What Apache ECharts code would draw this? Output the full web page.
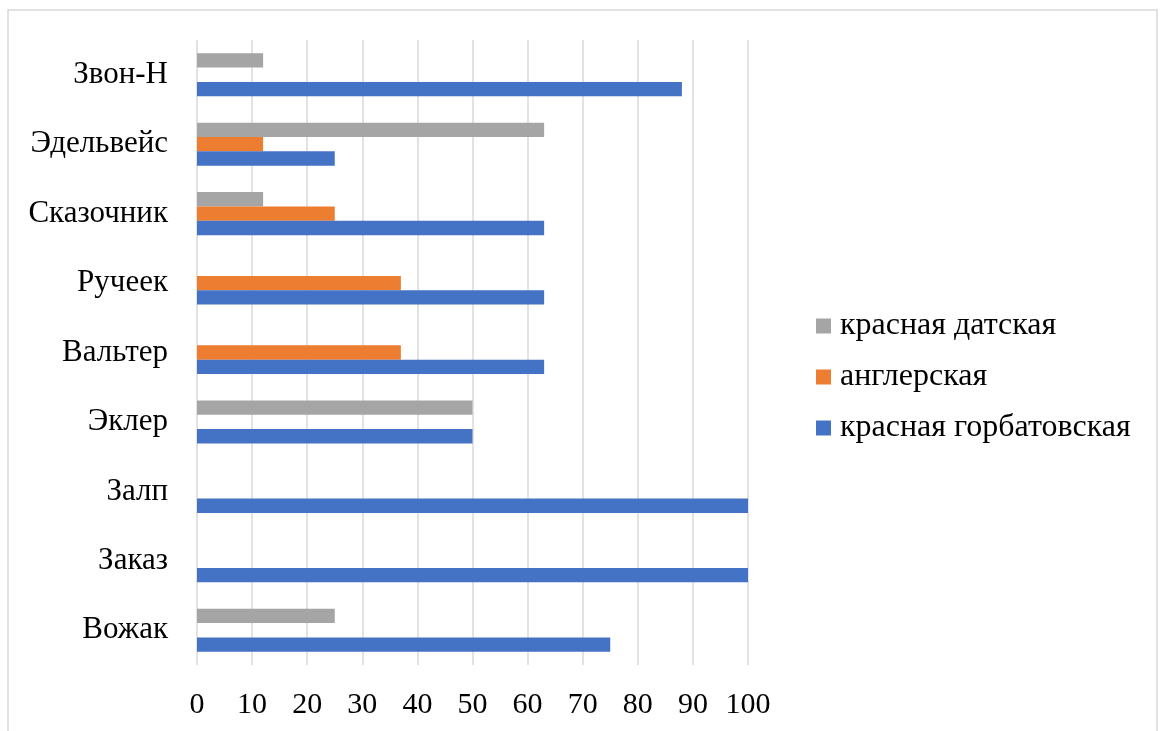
<!DOCTYPE html>
<html>
<head>
<meta charset="utf-8">
<script src="https://cdn.jsdelivr.net/npm/echarts@6/dist/echarts.min.js"></script>
<style>
  html, body { margin: 0; padding: 0; background: #ffffff; }
  #chart { width: 1161px; height: 731px; }
</style>
</head>
<body>
<div id="chart"></div>
<script>
// Varieties, listed bottom to top along the category axis
const categories = ['Вожак', 'Заказ', 'Залп', 'Эклер', 'Вальтер', 'Ручеек', 'Сказочник', 'Эдельвейс', 'Звон-Н'];

// Series in stacking order within each group (top to bottom)
const seriesNames = ['красная датская', 'англерская', 'красная горбатовская'];
const danish   = [25, null, null, 50, null, null, 12, 63, 12];
const angler   = [null, null, null, null, 37, 37, 25, 12, null];
const gorbatov = [75, 100, 100, 50, 63, 63, 63, 25, 88];

const colors = ['#A5A5A5', '#ED7D31', '#4472C4'];

const xMin = 0, xMax = 100, xStep = 10;

const FONT = '"Liberation Serif", "Times New Roman", serif';

const chart = echarts.init(document.getElementById('chart'), null, { renderer: 'canvas' });

const values = [danish, angler, gorbatov];

chart.setOption({
  animation: false,
  backgroundColor: '#ffffff',
  color: colors,
  textStyle: { fontFamily: FONT },
  graphic: [{
    type: 'rect',
    shape: { x: 8, y: 10, width: 1149, height: 760 },
    style: { fill: 'none', stroke: '#d9d9d9', lineWidth: 1.5 },
    silent: true
  }],
  grid: { left: 197, top: 40, width: 551, height: 625, containLabel: false },
  legend: {
    data: seriesNames,
    orient: 'vertical',
    left: 816,
    top: 310,
    padding: 0,
    itemWidth: 15,
    itemHeight: 15,
    itemGap: 19,
    icon: 'rect',
    textStyle: { fontFamily: FONT, fontSize: 32, color: '#000000', lineHeight: 32, padding: [0, 0, 0, 4] }
  },
  xAxis: {
    type: 'value',
    min: xMin, max: xMax, interval: xStep,
    axisLine: { show: false },
    axisTick: { show: false },
    splitLine: { show: true, lineStyle: { color: '#d9d9d9', width: 1.5 } },
    axisLabel: { fontFamily: FONT, fontSize: 30, color: '#000000', margin: 25 }
  },
  yAxis: {
    type: 'category',
    data: categories,
    axisLine: { show: false },
    axisTick: { show: false },
    splitLine: { show: false },
    axisLabel: { fontFamily: FONT, fontSize: 31, color: '#000000', margin: 29 }
  },
  series: seriesNames.map((name, i) => ({
    name: name,
    type: 'bar',
    data: values[i],
    barGap: '0%',
    barCategoryGap: '38%',
    itemStyle: { color: colors[i] }
  }))
});
</script>
</body>
</html>
